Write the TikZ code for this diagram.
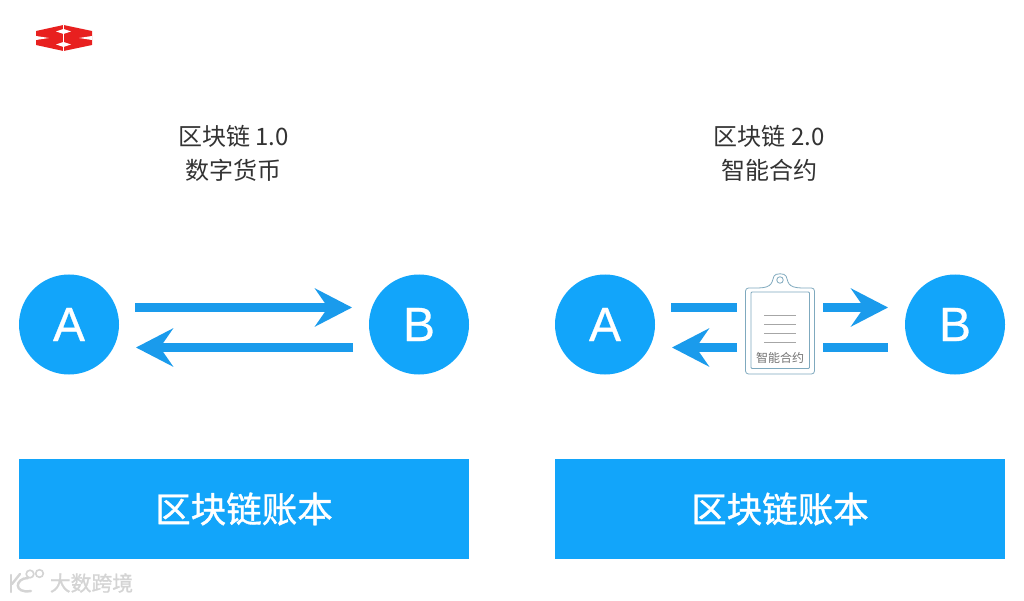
\documentclass[tikz,border=0pt]{standalone}
\usepackage{fontspec}
\setmainfont{Noto Sans CJK SC}
\newfontfamily\boldish[FakeBold=1]{Noto Sans CJK SC}
\newfontfamily\latinf[FakeBold=0.6]{Liberation Sans}
\usetikzlibrary{arrows.meta}
\definecolor{bluemain}{HTML}{12A5FA}
\definecolor{arrowblue}{HTML}{1A9BEC}
\definecolor{clipline}{HTML}{7FA9BE}
\definecolor{logored}{HTML}{E8201F}
\definecolor{wm}{HTML}{D4D4D4}
\tikzset{
  x=1pt,y=-1pt,
  party/.style={circle,fill=bluemain,text=white,minimum size=100pt,inner sep=0pt,font=\latinf\fontsize{48}{48}\selectfont},
  ledger/.style={fill=bluemain,text=white,minimum width=450pt,minimum height=100pt,inner sep=0pt,font=\boldish\fontsize{35.5}{35.5}\selectfont},
  heading/.style={align=center,text=black!80,font=\fontsize{24}{34}\selectfont,inner sep=0pt},
  flow/.style={draw=arrowblue,line width=9pt,-{Stealth[length=37pt,width=38pt,inset=13pt]}},
  bar/.style={draw=arrowblue,line width=9pt},
  clip/.style={draw=clipline,line width=0.8pt,fill=white},
  clipfine/.style={draw=black!35,line width=0.8pt},
}
\begin{document}
\begin{tikzpicture}
\useasboundingbox (0,0) rectangle (1024,601);
\fill[white] (0,0) rectangle (1024,601);
% logo
\fill[logored] (36,31) -- (63.5,25) -- (92,31) -- (92,45) -- (63.5,51) -- (36,45) -- cycle;
\fill[white] (36,36) -- (49,38) -- (36,40) -- cycle;
\fill[white] (92,36) -- (79,38) -- (92,40) -- cycle;
\fill[white] (56,31.5) -- (63.5,29) -- (71,31.5) -- (63.5,34) -- cycle;
\fill[white] (56,44.5) -- (63.5,42) -- (71,44.5) -- (63.5,47) -- cycle;
\fill[white] (63,25) rectangle (64,51);
% headings
\node[heading] (h1) at (233.5,153) {区块链 1.0\\数字货币};
\node[heading] (h2) at (769,153) {区块链 2.0\\智能合约};
% left panel
\node[party] (a1) at (69,324.5) {A};
\node[party] (b1) at (419,324.5) {B};
\coordinate (p1s) at (135,307.5);
\coordinate (p1e) at (352,307.5);
\coordinate (p2s) at (353,347.5);
\coordinate (p2e) at (136,347.5);
\draw[flow] (p1s) -- (p1e);
\draw[flow] (p2s) -- (p2e);
\node[ledger] (l1) at (244,509) {区块链账本};
% right panel
\node[party] (a2) at (605,324.5) {A};
\node[party] (b2) at (955,324.5) {B};
\node[ledger] (l2) at (780,509) {区块链账本};
% clipboard
\draw[clip,rounded corners=3pt] (745.5,288) -- (760,288) .. controls (768,287) and (771,285) .. (773,279) .. controls (775,273) and (785,273) .. (787,279) .. controls (789,285) and (792,287) .. (800,288) -- (814.5,288) -- (814.5,374) -- (745.5,374) -- cycle;
\draw[clip,rounded corners=1pt] (751,292) rectangle (809.5,368.5);
\node[circle,draw=clipline,line width=0.8pt,minimum size=6.5pt,inner sep=0pt] (hole) at (780,280) {};
\coordinate (ls1) at (764,315); \coordinate (le1) at (796,315);
\coordinate (ls2) at (764,324.3); \coordinate (le2) at (796,324.3);
\coordinate (ls3) at (764,333.3); \coordinate (le3) at (796,333.3);
\coordinate (ls4) at (764,342.7); \coordinate (le4) at (796,342.7);
\draw[clipfine] (ls1) -- (le1);
\draw[clipfine] (ls2) -- (le2);
\draw[clipfine] (ls3) -- (le3);
\draw[clipfine] (ls4) -- (le4);
\node[text=black!55,font=\fontsize{12}{12}\selectfont,inner sep=0pt] (cliplabel) at (780,357.5) {智能合约};
% arrows around the clipboard
\coordinate (q1s) at (671,307.5);
\coordinate (q2s) at (737,347.5);
\coordinate (q2e) at (672,347.5);
\coordinate (q3s) at (823,307.5);
\coordinate (q3e) at (888,307.5);
\coordinate (q4e) at (888,347.5);
\coordinate (q5s) at (823,347.5);
\coordinate (q1e) at (737,307.5);
\draw[bar] (q1s) -- (q1e);
\draw[flow] (q2s) -- (q2e);
\draw[flow] (q3s) -- (q3e);
\draw[bar] (q5s) -- (q4e);
% watermark
\draw[wm,line width=2.4pt,line cap=round] (11,575) -- (11,592);
\draw[wm,line width=2.4pt,line cap=round] (12,584) -- (20,574);
\draw[wm,line width=2.4pt,line cap=round] (28,578) .. controls (15,578) and (13,594) .. (31,591);
\draw[wm,line width=1.6pt] (30,574) circle (3.8);
\draw[wm,line width=1.6pt] (39.5,573.5) circle (3.8);
\node[text=wm,font=\boldish\fontsize{20.8}{20.8}\selectfont,inner sep=0pt] (wmtext) at (91.5,583) {大数跨境};
\end{tikzpicture}
\end{document}
